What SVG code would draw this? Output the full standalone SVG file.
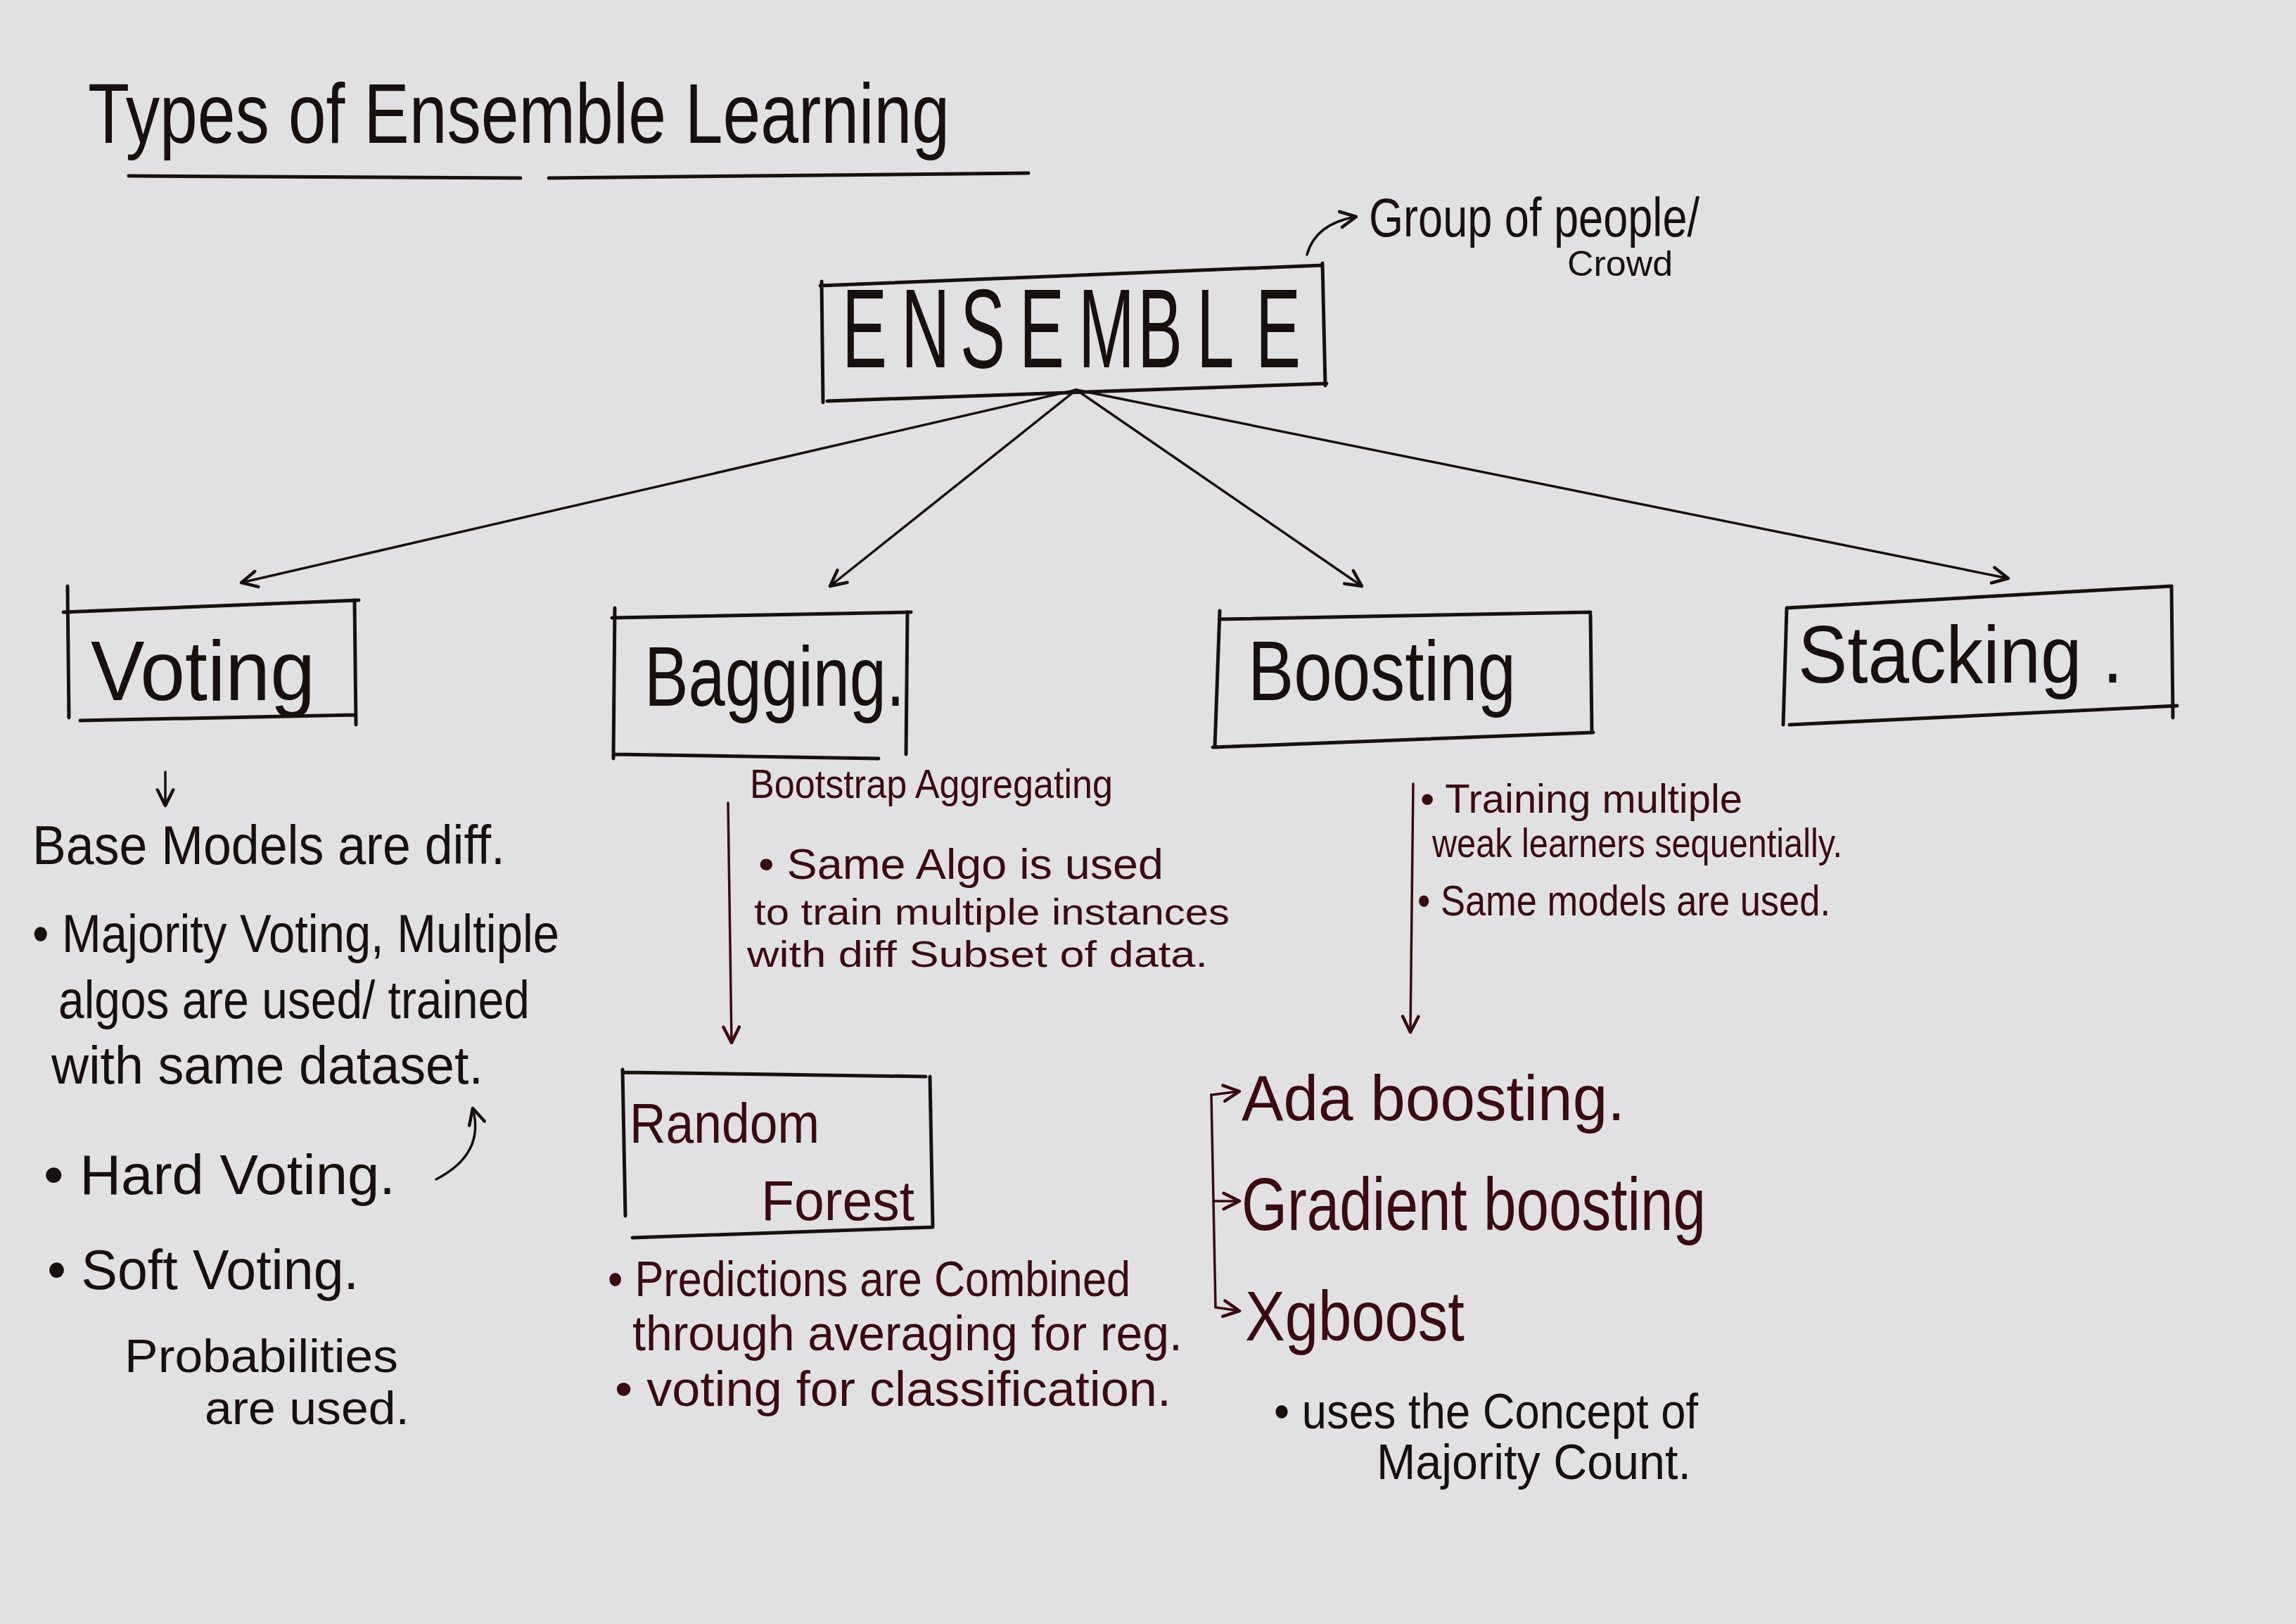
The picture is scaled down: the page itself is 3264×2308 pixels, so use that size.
<svg xmlns="http://www.w3.org/2000/svg" width="3264" height="2308" viewBox="0 0 3264 2308">
<style>
.ink{fill:#17100f;font-family:"Liberation Sans",Arial,sans-serif}
.mar{fill:#3a0b12;font-family:"Liberation Sans",Arial,sans-serif}
.box{fill:none;stroke:#17100f;stroke-width:5;stroke-linecap:round;stroke-linejoin:round}
.con{fill:none;stroke:#17100f;stroke-width:3.5;stroke-linecap:round}
.conm{fill:none;stroke:#3a0b12;stroke-width:3.5;stroke-linecap:round}
.ul{fill:none;stroke:#17100f;stroke-width:5;stroke-linecap:round}
</style>
<defs>
<marker id="ah" viewBox="0 0 10 10" refX="9" refY="5" markerWidth="8" markerHeight="8" orient="auto" markerUnits="strokeWidth">
<path d="M1,1 L9,5 L1,9" fill="none" stroke="#17100f" stroke-width="1.6" stroke-linecap="round" stroke-linejoin="round"/>
</marker>
<marker id="ahm" viewBox="0 0 10 10" refX="9" refY="5" markerWidth="8" markerHeight="8" orient="auto" markerUnits="strokeWidth">
<path d="M1,1 L9,5 L1,9" fill="none" stroke="#3a0b12" stroke-width="1.6" stroke-linecap="round" stroke-linejoin="round"/>
</marker>
</defs>
<rect width="3264" height="2308" fill="#e1e1e3"/>

<g id="title">
<text class="ink" x="125" y="203" font-size="120" textLength="1225" lengthAdjust="spacingAndGlyphs">Types of Ensemble Learning</text>
<path class="ul" d="M183,250 L740,253"/>
<path class="ul" d="M780,253 L1462,246"/>
</g>

<g id="ensemble">
<path class="box" d="M1166,406 L1880,377 M1168,400 L1170,572 M1880,374 L1884,548 M1176,570 L1886,545"/>
<text class="ink" transform="translate(1197,522) scale(0.6,1)" x="0 140 280 420 560 700 840 980" y="0" font-size="160" font-weight="300">ENSEMBLE</text>
</g>

<g id="ensemble-note">
<path class="con" d="M1858,362 Q1870,318 1928,308" marker-end="url(#ah)"/>
<text class="ink" x="1946" y="336" font-size="78" textLength="470" lengthAdjust="spacingAndGlyphs">Group of people/</text>
<text class="ink" x="2228" y="392" font-size="50" textLength="150" lengthAdjust="spacingAndGlyphs">Crowd</text>
</g>

<g id="voting">
<path class="box" d="M90,870 L510,853 M96,833 L98,1020 M504,853 L506,1030 M114,1024 L504,1016"/>
<text class="ink" x="129" y="995" font-size="120" textLength="319" lengthAdjust="spacingAndGlyphs">Voting</text>
</g>

<g id="bagging">
<path class="box" d="M870,878 L1295,870 M874,864 L872,1078 M1290,870 L1288,1072 M874,1072 L1249,1078"/>
<text class="ink" x="916" y="1003" font-size="120" textLength="370" lengthAdjust="spacingAndGlyphs">Bagging.</text>
</g>

<g id="boosting">
<path class="box" d="M1734,880 L2261,870 M1734,868 L1727,1062 M2261,874 L2263,1041 M1724,1062 L2265,1041"/>
<text class="ink" x="1774" y="995" font-size="120" textLength="381" lengthAdjust="spacingAndGlyphs">Boosting</text>
</g>

<g id="stacking">
<path class="box" d="M2540,864 L3087,833 M2540,864 L2535,1030 M3087,833 L3089,1020 M2544,1030 L3095,1003"/>
<text class="ink" x="2556" y="970" font-size="115" textLength="462" lengthAdjust="spacingAndGlyphs">Stacking .</text>
</g>

<g id="random-forest">
<path class="box" d="M885,1524 L1316,1530 M885,1520 L889,1728 M1322,1530 L1326,1744 M899,1759 L1326,1744"/>
<text class="mar" x="895" y="1624" font-size="80" textLength="270" lengthAdjust="spacingAndGlyphs">Random</text>
<text class="mar" x="1082" y="1734" font-size="80" textLength="218" lengthAdjust="spacingAndGlyphs">Forest</text>
</g>

<g id="voting-notes">
<text class="ink" x="46" y="1228" font-size="78" textLength="672" lengthAdjust="spacingAndGlyphs">Base Models are diff.</text>
<text class="ink" x="46" y="1353" font-size="76" textLength="749" lengthAdjust="spacingAndGlyphs">• Majority Voting, Multiple</text>
<text class="ink" x="83" y="1447" font-size="76" textLength="670" lengthAdjust="spacingAndGlyphs">algos are used/ trained</text>
<text class="ink" x="73" y="1540" font-size="76" textLength="614" lengthAdjust="spacingAndGlyphs">with same dataset.</text>
<text class="ink" x="62" y="1697" font-size="80" textLength="500" lengthAdjust="spacingAndGlyphs">• Hard Voting.</text>
<text class="ink" x="67" y="1832" font-size="80" textLength="443" lengthAdjust="spacingAndGlyphs">• Soft Voting.</text>
<text class="ink" x="177" y="1950" font-size="66" textLength="389" lengthAdjust="spacingAndGlyphs">Probabilities</text>
<text class="ink" x="291" y="2024" font-size="66" textLength="291" lengthAdjust="spacingAndGlyphs">are used.</text>
</g>

<g id="bagging-notes">
<text class="mar" x="1066" y="1134" font-size="58" textLength="516" lengthAdjust="spacingAndGlyphs">Bootstrap Aggregating</text>
<text class="mar" x="1078" y="1249" font-size="62" textLength="576" lengthAdjust="spacingAndGlyphs">• Same Algo is used</text>
<text class="mar" x="1072" y="1314" font-size="52" textLength="676" lengthAdjust="spacingAndGlyphs">to train multiple instances</text>
<text class="mar" x="1062" y="1374" font-size="52" textLength="655" lengthAdjust="spacingAndGlyphs">with diff Subset of data.</text>
<text class="mar" x="864" y="1842" font-size="70" textLength="743" lengthAdjust="spacingAndGlyphs">• Predictions are Combined</text>
<text class="mar" x="899" y="1919" font-size="70" textLength="782" lengthAdjust="spacingAndGlyphs">through averaging for reg.</text>
<text class="mar" x="874" y="1998" font-size="70" textLength="791" lengthAdjust="spacingAndGlyphs">• voting for classification.</text>
</g>

<g id="boosting-notes">
<text class="mar" x="2019" y="1155" font-size="58" textLength="458" lengthAdjust="spacingAndGlyphs">• Training multiple</text>
<text class="mar" x="2036" y="1218" font-size="58" textLength="583" lengthAdjust="spacingAndGlyphs">weak learners sequentially.</text>
<text class="mar" x="2015" y="1301" font-size="62" textLength="587" lengthAdjust="spacingAndGlyphs">• Same models are used.</text>
</g>

<g id="ada-boosting"><text class="mar" x="1765" y="1592" font-size="90" textLength="545" lengthAdjust="spacingAndGlyphs">Ada boosting.</text></g>
<g id="gradient-boosting"><text class="mar" x="1765" y="1748" font-size="105" textLength="660" lengthAdjust="spacingAndGlyphs">Gradient boosting</text></g>
<g id="xgboost"><text class="mar" x="1770" y="1905" font-size="100" textLength="312" lengthAdjust="spacingAndGlyphs">Xgboost</text></g>
<g id="xgboost-notes">
<text class="ink" x="1811" y="2030" font-size="70" textLength="603" lengthAdjust="spacingAndGlyphs">• uses the Concept of</text>
<text class="ink" x="1957" y="2102" font-size="70" textLength="447" lengthAdjust="spacingAndGlyphs">Majority Count.</text>
</g>

<g id="connectors">
<path class="con" d="M1530,554 L343,828" marker-end="url(#ah)"/>
<path class="con" d="M1530,554 L1180,833" marker-end="url(#ah)"/>
<path class="con" d="M1530,554 L1936,833" marker-end="url(#ah)"/>
<path class="con" d="M1530,554 L2855,822" marker-end="url(#ah)"/>
<path class="con" d="M235,1097 L235,1145" marker-end="url(#ah)"/>
<path class="con" d="M620,1676 Q690,1640 672,1575" marker-end="url(#ah)"/>
<path class="conm" d="M1035,1141 L1040,1482" marker-end="url(#ahm)"/>
<path class="conm" d="M2009,1114 L2005,1467" marker-end="url(#ahm)"/>
<path class="conm" d="M1722,1556 L1728,1858"/>
<path class="conm" d="M1722,1556 L1762,1551" marker-end="url(#ahm)"/>
<path class="conm" d="M1725,1707 L1762,1707" marker-end="url(#ahm)"/>
<path class="conm" d="M1728,1858 L1762,1863" marker-end="url(#ahm)"/>
</g>
</svg>
